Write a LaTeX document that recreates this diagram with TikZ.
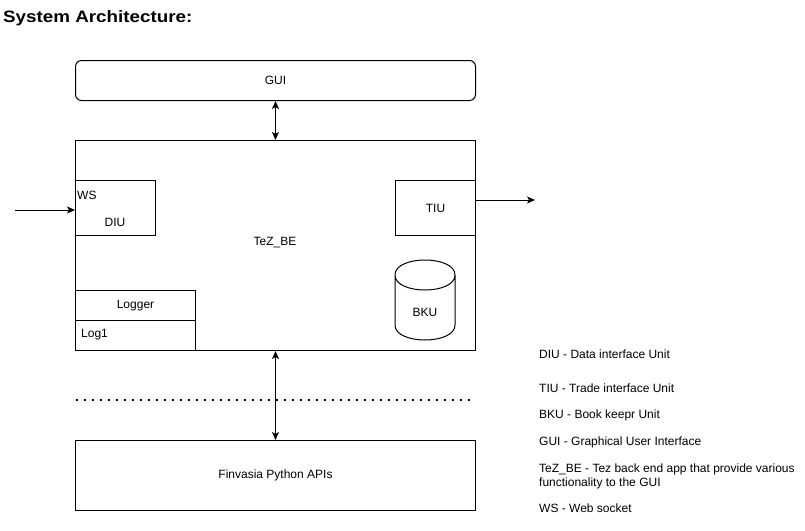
\documentclass[tikz,border=0pt]{standalone}
\usepackage{fontspec}
\setmainfont{Liberation Sans}
\newfontfamily\titlefont{Liberation Sans Bold}[FakeStretch=1.14]
\usetikzlibrary{arrows.meta}
\begin{document}
\begin{tikzpicture}[x=1pt,y=-1pt,
  every node/.style={font=\fontsize{12}{14}\selectfont, inner sep=0pt},
  box/.style={draw, line width=1pt, minimum width=#1, anchor=north west},
  lbl/.style={anchor=center},
  legend/.style={anchor=base west},
  conn/.style={line width=1pt, {Stealth[length=8pt,width=7pt,inset=2pt]}-{Stealth[length=8pt,width=7pt,inset=2pt]}},
  oneway/.style={line width=1pt, -{Stealth[length=8pt,width=7pt,inset=2pt]}},
  dotline/.style={line width=1.6pt, dash pattern=on 1.6pt off 6.4pt}
]
\useasboundingbox (0,0) rectangle (805,530);

% title
\node[anchor=base west, font=\titlefont\fontsize{16.5}{19}\selectfont] (title) at (3,22) {System Architecture:};

% GUI
\node[box=400pt, minimum height=40pt, rounded corners=6pt] (gui) at (75,60) {};
\node[lbl] (guil) at (gui.center) {GUI};

% TeZ_BE
\node[box=400pt, minimum height=210pt] (be) at (75,140) {};
\node[lbl] (bel) at (275,243) {TeZ\_BE};

% DIU
\node[box=80pt, minimum height=55pt] (diu) at (75,180) {};
\node[anchor=base west] (ws) at (77,199) {WS};
\node[lbl] (diul) at (115,222) {DIU};

% TIU
\node[box=80pt, minimum height=55pt] (tiu) at (395,180) {};
\node[lbl] (tiul) at (tiu.center) {TIU};

% Logger
\node[box=120pt, minimum height=30pt] (logger) at (75,290) {};
\node[lbl] (loggerl) at (logger.center) {Logger};
\node[box=120pt, minimum height=30pt] (log1) at (75,320) {};
\node[anchor=west] (log1l) at (81,335) {Log1};

% BKU cylinder
\draw[line width=1pt] (395,275) .. controls (395,255) and (455,255) .. (455,275)
  .. controls (455,295) and (395,295) .. (395,275) -- (395,325)
  .. controls (395,345) and (455,345) .. (455,325) -- (455,275);
\node[lbl] (bku) at (425,312) {BKU};

% Finvasia
\node[box=400pt, minimum height=70pt] (fin) at (75,440) {};
\node[lbl] (finl) at (fin.center) {Finvasia Python APIs};

% connectors
\draw[conn] (gui.south) -- (be.north);
\draw[conn] (be.south) -- (fin.north);
\coordinate (inp) at (15,210);
\draw[oneway] (inp) -- (75,210);
\coordinate (outp) at (535,200);
\draw[oneway] (475,200) -- (outp);

% dotted separator
\coordinate (d1) at (76,400);
\coordinate (d2) at (472,400);
\draw[dotline] (d1) -- (d2);

% legend
\node[legend] (l1) at (539,358) {DIU - Data interface Unit};
\node[legend] (l2) at (539,392) {TIU - Trade interface Unit};
\node[legend] (l3) at (539,418) {BKU - Book keepr Unit};
\node[legend] (l4) at (539,445) {GUI - Graphical User Interface};
\node[legend] (l5) at (539,472) {TeZ\_BE - Tez back end app that provide various};
\node[legend] (l6) at (539,486) {functionality to the GUI};
\node[legend] (l7) at (539,512) {WS - Web socket};
\end{tikzpicture}
\end{document}
